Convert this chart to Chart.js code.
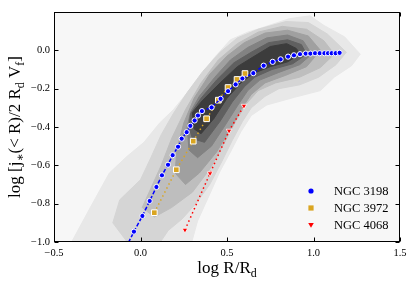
<!DOCTYPE html>
<html>
<head>
<meta charset="utf-8">
<script src="https://cdn.jsdelivr.net/npm/chart.js@4.4.0/dist/chart.umd.min.js"></script>
<style>
  html, body { margin: 0; padding: 0; background: #fff; }
  #wrap { width: 415px; height: 286px; }
</style>
</head>
<body>
<div id="wrap"><canvas id="chart" width="415" height="286"></canvas></div>
<script>
// -------------------------------
// DATA
// -------------------------------
const xTicks = [-0.5, 0.0, 0.5, 1.0, 1.5];
const yTicks = [-1.0, -0.8, -0.6, -0.4, -0.2, 0.0];

const seriesNames = ["NGC 3198", "NGC 3972", "NGC 4068"];

// NGC 3198 (blue circles, dashed)
const blueX = [-0.085, -0.038, 0.011, 0.053, 0.092, 0.124, 0.159, 0.186, 0.217, 0.238, 0.267, 0.288,
  0.313, 0.332, 0.355, 0.411, 0.463, 0.506, 0.550, 0.589, 0.652, 0.712, 0.764, 0.810, 0.853,
  0.887, 0.922, 0.955, 0.982, 1.009, 1.036, 1.063, 1.084, 1.105, 1.128, 1.151];
const blueY = [-1.03, -0.946, -0.864, -0.786, -0.713, -0.652, -0.597, -0.547, -0.503, -0.461, -0.427, -0.394,
  -0.366, -0.340, -0.317, -0.298, -0.253, -0.213, -0.178, -0.147, -0.119, -0.080, -0.060, -0.047, -0.033,
  -0.026, -0.020, -0.017, -0.017, -0.015, -0.015, -0.015, -0.015, -0.015, -0.015, -0.013];

// NGC 3972 (gold squares, dotted)
const goldX = [0.080, 0.207, 0.305, 0.382, 0.450, 0.506, 0.558, 0.604];
const goldY = [-0.847, -0.623, -0.474, -0.357, -0.260, -0.194, -0.152, -0.121];

// NGC 4068 (red triangles, dotted)
const redX = [0.257, 0.402, 0.512, 0.598];
const redY = [-0.937, -0.642, -0.420, -0.290];

// density contours, outermost first
const level1 = [[-0.41,-1.02],[-0.29,-0.82],[-0.18,-0.64],[-0.08,-0.555],[0.02,-0.48],[0.11,-0.38],[0.19,-0.31],
  [0.33,-0.155],[0.42,-0.045],[0.52,0.055],[0.62,0.095],[0.71,0.12],[0.86,0.165],[0.98,0.18],[1.06,0.13],
  [1.18,0.07],[1.27,-0.02],[1.22,-0.08],[1.12,-0.14],[1.04,-0.21],[0.89,-0.245],[0.73,-0.285],[0.64,-0.34],
  [0.58,-0.425],[0.52,-0.53],[0.46,-0.63],[0.39,-0.77],[0.33,-0.89],[0.29,-1.02]];
const level2 = [[-0.06,-1.02],[-0.16,-0.90],[-0.12,-0.78],[0.0,-0.675],[0.06,-0.56],[0.12,-0.44],[0.19,-0.33],
  [0.27,-0.22],[0.36,-0.11],[0.46,-0.01],[0.56,0.065],[0.68,0.11],[0.84,0.15],[0.97,0.145],[1.08,0.085],
  [1.19,-0.01],[1.13,-0.075],[1.03,-0.14],[0.92,-0.18],[0.80,-0.20],[0.72,-0.24],[0.64,-0.30],[0.59,-0.37],
  [0.53,-0.47],[0.47,-0.58],[0.40,-0.70],[0.32,-0.80],[0.24,-0.88],[0.16,-0.94],[0.10,-1.02]];
const level3 = [[0.08,-0.87],[0.01,-0.82],[0.06,-0.72],[0.12,-0.60],[0.18,-0.46],[0.26,-0.31],[0.35,-0.17],
  [0.45,-0.05],[0.56,0.035],[0.68,0.095],[0.82,0.125],[0.96,0.11],[1.06,0.05],[1.12,-0.02],[1.04,-0.09],
  [0.92,-0.14],[0.78,-0.17],[0.68,-0.21],[0.61,-0.28],[0.55,-0.37],[0.48,-0.49],[0.40,-0.62],[0.30,-0.74],
  [0.18,-0.82]];
const level4 = [[0.26,-0.70],[0.20,-0.64],[0.21,-0.52],[0.25,-0.38],[0.31,-0.25],[0.40,-0.125],[0.50,-0.03],
  [0.60,0.04],[0.72,0.09],[0.85,0.105],[0.97,0.075],[1.04,0.0],[0.96,-0.085],[0.84,-0.13],[0.72,-0.17],
  [0.64,-0.23],[0.58,-0.31],[0.52,-0.41],[0.44,-0.53],[0.34,-0.64]];
const level5 = [[0.28,-0.52],[0.27,-0.40],[0.29,-0.32],[0.34,-0.24],[0.43,-0.14],[0.52,-0.05],[0.62,0.015],
  [0.73,0.065],[0.85,0.08],[0.94,0.05],[0.99,-0.02],[0.92,-0.075],[0.80,-0.115],[0.69,-0.155],[0.62,-0.21],
  [0.56,-0.29],[0.49,-0.39],[0.41,-0.50],[0.33,-0.56]];
const level6 = [[0.30,-0.46],[0.28,-0.40],[0.29,-0.33],[0.35,-0.25],[0.44,-0.155],[0.54,-0.065],[0.64,-0.01],
  [0.74,0.04],[0.85,0.055],[0.93,0.03],[0.96,-0.02],[0.88,-0.07],[0.76,-0.10],[0.66,-0.14],[0.60,-0.19],
  [0.53,-0.27],[0.46,-0.37],[0.37,-0.48]];
const level7 = [[0.30,-0.325],[0.36,-0.26],[0.46,-0.17],[0.56,-0.085],[0.65,-0.035],[0.75,0.02],[0.845,0.035],
  [0.90,0.01],[0.925,-0.02],[0.85,-0.06],[0.75,-0.085],[0.655,-0.12],[0.58,-0.17],[0.50,-0.25],[0.425,-0.355],
  [0.35,-0.435],[0.31,-0.41]];

const levels = [level1, level2, level3, level4, level5, level6, level7];
const levelColors = ["#e8e8e8", "#d5d5d5", "#bebebe", "#a0a0a0", "#828282", "#606060", "#3c3c3c"];

// -------------------------------
// HELPERS
// -------------------------------
const SERIF = '"Liberation Serif", "DejaVu Serif", serif';

function toPoints(xs, ys) {
  return xs.map((x, i) => ({ x: x, y: ys[i] }));
}

function fmt(v) {
  if (Math.abs(v) < 1e-9) return "0.0";
  return v.toFixed(1).replace("-", "\u2212");
}

function contourDataset(pts, color, order) {
  const closed = pts.concat([pts[0]]);
  return {
    data: closed.map(p => ({ x: p[0], y: p[1] })),
    fill: "shape",
    backgroundColor: color,
    borderColor: color,
    borderWidth: 1,
    pointRadius: 0,
    pointHoverRadius: 0,
    tension: 0,
    clip: 0,
    order: order,
  };
}

// rich text with subscripts: parts = [[text, isSub], ...]
function richWidth(ctx, parts, size) {
  let w = 0;
  parts.forEach(p => {
    ctx.font = (p[1] ? size * 0.7 : size) + "px " + SERIF;
    w += ctx.measureText(p[0]).width;
  });
  return w;
}

function drawRich(ctx, parts, x, y, size) {
  let cx = x;
  parts.forEach(p => {
    ctx.font = (p[1] ? size * 0.7 : size) + "px " + SERIF;
    ctx.fillText(p[0], cx, p[1] ? y + size * 0.22 : y);
    cx += ctx.measureText(p[0]).width;
  });
}

// -------------------------------
// PLUGINS
// -------------------------------
const plotBackground = {
  id: "plotBackground",
  beforeDraw(chart) {
    const { ctx, chartArea: a } = chart;
    ctx.save();
    ctx.fillStyle = "#f7f7f7";
    ctx.fillRect(a.left, a.top, a.right - a.left, a.bottom - a.top);
    ctx.restore();
  },
};

const frameAndTicks = {
  id: "frameAndTicks",
  afterDatasetsDraw(chart) {
    const { ctx, chartArea: a, scales } = chart;
    ctx.save();
    ctx.strokeStyle = "#000";
    ctx.lineWidth = 1;
    const L = Math.round(a.left) + 0.5, R = Math.round(a.right) - 0.5;
    const T = Math.round(a.top) + 0.5, B = Math.round(a.bottom) - 0.5;
    ctx.strokeRect(L, T, R - L, B - T);
    ctx.beginPath();
    xTicks.forEach(v => {
      const px = Math.round(scales.x.getPixelForValue(v)) + 0.5;
      ctx.moveTo(px, B); ctx.lineTo(px, B - 4);
      ctx.moveTo(px, T); ctx.lineTo(px, T + 4);
    });
    yTicks.forEach(v => {
      const py = Math.round(scales.y.getPixelForValue(v)) + 0.5;
      ctx.moveTo(L, py); ctx.lineTo(L + 4, py);
      ctx.moveTo(R, py); ctx.lineTo(R - 4, py);
    });
    ctx.stroke();
    ctx.restore();
  },
};

const titlesAndLegend = {
  id: "titlesAndLegend",
  afterDraw(chart) {
    const { ctx, chartArea: a } = chart;
    ctx.save();
    ctx.fillStyle = "#000";
    ctx.textBaseline = "alphabetic";
    ctx.textAlign = "left";

    // x title
    const xParts = [["log R/R", false], ["d", true]];
    const xs = 17;
    const xw = richWidth(ctx, xParts, xs);
    drawRich(ctx, xParts, (a.left + a.right) / 2 - xw / 2, 273, xs);

    // y title
    const yParts = [["log [j", false], ["\u2217", true], ["(< R)/2 R", false], ["d", true],
      [" V", false], ["f", true], ["]", false]];
    const ys = 17;
    const yw = richWidth(ctx, yParts, ys);
    ctx.save();
    ctx.translate(20, (a.top + a.bottom) / 2);
    ctx.rotate(-Math.PI / 2);
    drawRich(ctx, yParts, -yw / 2, 0, ys);
    ctx.restore();

    // legend
    const mx = 311, tx = 334;
    const rows = [191, 208, 225];
    ctx.font = "12.5px " + SERIF;
    ctx.textBaseline = "middle";
    // circle
    ctx.fillStyle = "#0000ff";
    ctx.beginPath();
    ctx.arc(mx, rows[0], 2.6, 0, Math.PI * 2);
    ctx.fill();
    // square
    ctx.fillStyle = "#daa520";
    ctx.fillRect(mx - 2.6, rows[1] - 2.6, 5.2, 5.2);
    // triangle down
    ctx.fillStyle = "#ff0000";
    ctx.beginPath();
    ctx.moveTo(mx - 2.8, rows[2] - 2);
    ctx.lineTo(mx + 2.8, rows[2] - 2);
    ctx.lineTo(mx, rows[2] + 2.8);
    ctx.closePath();
    ctx.fill();

    ctx.fillStyle = "#000";
    seriesNames.forEach((n, i) => ctx.fillText(n, tx, rows[i] + 1));
    ctx.restore();
  },
};

// -------------------------------
// CHART
// -------------------------------
const datasets = [
  {
    data: toPoints(blueX, blueY),
    borderColor: "#0000ff",
    borderWidth: 1.5,
    borderDash: [4, 2],
    backgroundColor: "#0000ff",
    pointBackgroundColor: "#0000ff",
    pointBorderColor: "#ffffff",
    pointBorderWidth: 1,
    pointRadius: 2.6,
    pointStyle: "circle",
    tension: 0,
    clip: 0,
    order: 1,
  },
  {
    data: toPoints(goldX, goldY),
    borderColor: "#daa520",
    borderWidth: 1.5,
    borderDash: [1.5, 3],
    pointBackgroundColor: "#daa520",
    pointBorderColor: "#ffffff",
    pointBorderWidth: 1,
    pointRadius: 4,
    pointStyle: "rect",
    tension: 0,
    clip: 0,
    order: 2,
  },
  {
    data: toPoints(redX, redY),
    borderColor: "#ff0000",
    borderWidth: 1.5,
    borderDash: [1.5, 3],
    pointBackgroundColor: "#ff0000",
    pointBorderColor: "#ffffff",
    pointBorderWidth: 0.8,
    pointRadius: 3.2,
    pointStyle: "triangle",
    pointRotation: 180,
    tension: 0,
    clip: 0,
    order: 3,
  },
];
levels.forEach((lv, i) => datasets.push(contourDataset(lv, levelColors[i], 20 - i)));

const chart = new Chart(document.getElementById("chart").getContext("2d"), {
  type: "line",
  data: { datasets: datasets },
  options: {
    responsive: false,
    animation: false,
    devicePixelRatio: 1,
    layout: { padding: { left: 0, right: 15, top: 12, bottom: 0 } },
    plugins: {
      legend: { display: false },
      tooltip: { enabled: false },
    },
    events: [],
    scales: {
      x: {
        type: "linear",
        min: -0.5,
        max: 1.5,
        grid: { display: false, drawTicks: false },
        border: { display: false },
        afterBuildTicks: s => { s.ticks = xTicks.map(v => ({ value: v })); },
        afterFit: s => { s.height = 44; },
        ticks: {
          padding: 5,
          color: "#000",
          maxRotation: 0,
          autoSkip: false,
          font: { family: SERIF, size: 10.5 },
          callback: v => fmt(v),
        },
      },
      y: {
        type: "linear",
        min: -1.0,
        max: 0.2,
        grid: { display: false, drawTicks: false },
        border: { display: false },
        afterBuildTicks: s => { s.ticks = yTicks.map(v => ({ value: v })); },
        afterFit: s => { s.width = 54; },
        ticks: {
          padding: 4,
          color: "#000",
          autoSkip: false,
          font: { family: SERIF, size: 10.5 },
          callback: v => fmt(v),
        },
      },
    },
  },
  plugins: [plotBackground, frameAndTicks, titlesAndLegend],
});
</script>
</body>
</html>
